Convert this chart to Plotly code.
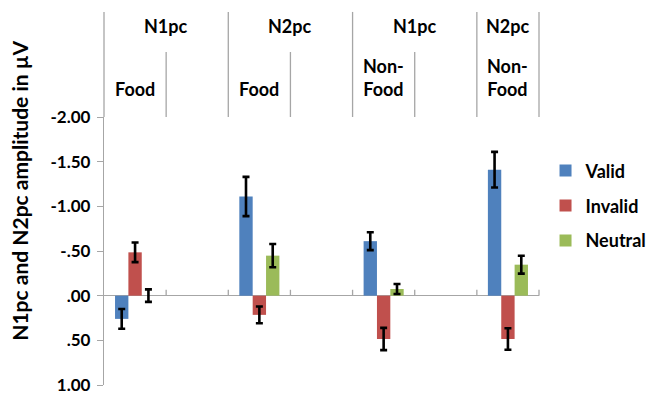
import plotly.graph_objects as go

# Lateralised component amplitudes (µV); negative values are plotted upward
conditions = ["N1pc Food", "N2pc Food", "N1pc Non-Food", "N2pc Non-Food"]
valid = [0.26, -1.11, -0.61, -1.41]
valid_err = [0.11, 0.22, 0.10, 0.20]
invalid = [-0.485, 0.215, 0.485, 0.485]
invalid_err = [0.11, 0.093, 0.125, 0.12]
neutral = [0.0, -0.448, -0.075, -0.347]
neutral_err = [0.07, 0.13, 0.056, 0.10]

# Category axis: seven slots, data occupy every other slot
slot_positions = [0, 2, 4, 6]
n_slots = 7
lower_labels = ["Food", "Food", "Non-<br>Food", "Non-<br>Food"]
upper_labels = ["N1pc", "N2pc", "N1pc", "N2pc"]
upper_centers = [0.5, 2.5, 4.5, 6.0]

y_ticks = [-2.0, -1.5, -1.0, -0.5, 0.0, 0.5, 1.0]
y_ticktext = ["-2.00", "-1.50", "-1.00", "-.50", ".00", ".50", "1.00"]

FONT = "Lato"
GRAY = "#a6a6a6"

series = [
    ("Valid", valid, valid_err, "#4F81BD"),
    ("Invalid", invalid, invalid_err, "#C0504D"),
    ("Neutral", neutral, neutral_err, "#9BBB59"),
]

fig = go.Figure()
for name, vals, errs, color in series:
    fig.add_trace(go.Bar(
        name=name,
        x=slot_positions,
        y=vals,
        marker=dict(color=color, line=dict(width=0)),
        error_y=dict(type="data", array=errs, visible=True,
                     color="black", thickness=2.6, width=3.5),
        legendgroup=name,
    ))

shapes = []
# separators above the plot area between category slots
for k in range(n_slots + 1):
    long_line = k in (0, 2, 4, 6, 7)
    shapes.append(dict(type="line", xref="paper", yref="paper",
                       x0=k / n_slots, x1=k / n_slots,
                       y0=1.0, y1=1.392 if long_line else 1.2425,
                       line=dict(color=GRAY, width=1.3)))
# small tick marks on the zero line at slot boundaries
zero_frac = 1 / 3
for k in range(1, n_slots + 1):
    shapes.append(dict(type="line", xref="paper", yref="paper",
                       x0=k / n_slots, x1=k / n_slots,
                       y0=zero_frac, y1=zero_frac + 0.022,
                       line=dict(color=GRAY, width=1.3)))

annotations = []
for pos, lab in zip(slot_positions, lower_labels):
    annotations.append(dict(x=pos, xref="x", y=1.055, yref="paper",
                            text=lab, showarrow=False, yanchor="bottom",
                            xanchor="center",
                            font=dict(family=FONT, size=18, color="black",
                                      weight="bold")))
for cx, lab in zip(upper_centers, upper_labels):
    annotations.append(dict(x=cx, xref="x", y=1.34, yref="paper",
                            text=lab, showarrow=False, yanchor="middle",
                            xanchor="center",
                            font=dict(family=FONT, size=18, color="black",
                                      weight="bold")))
annotations.append(dict(x=-0.193, xref="paper", y=0.725, yref="paper",
                        text="N1pc and N2pc amplitude in µV",
                        textangle=-90, showarrow=False,
                        xanchor="center", yanchor="middle",
                        font=dict(family=FONT, size=21, color="black",
                                  weight="bold")))

fig.update_layout(
    width=646, height=395,
    margin=dict(l=104, r=107, t=117, b=10, autoexpand=False),
    paper_bgcolor="white", plot_bgcolor="white",
    barmode="group", bargap=0.6775, bargroupgap=0,
    showlegend=True,
    legend=dict(x=1.015, xanchor="left", y=0.868, yanchor="top",
                traceorder="grouped", tracegroupgap=8.5,
                font=dict(family=FONT, size=18, color="black", weight="bold"),
                itemwidth=30, bgcolor="rgba(0,0,0,0)"),
    xaxis=dict(range=[-0.5, 6.5], showticklabels=False, showgrid=False,
               zeroline=False, showline=False, ticks=""),
    yaxis=dict(range=[1, -2], tickvals=y_ticks, ticktext=y_ticktext,
               showgrid=False, showline=True, linecolor=GRAY, linewidth=1.3,
               ticks="outside", ticklen=6, tickcolor=GRAY, tickwidth=1.3,
               ticklabelstandoff=3,
               zeroline=True, zerolinecolor=GRAY, zerolinewidth=1.3,
               tickfont=dict(family=FONT, size=17, color="black",
                             weight="bold")),
    shapes=shapes,
    annotations=annotations,
)

fig.write_html("out.html")
